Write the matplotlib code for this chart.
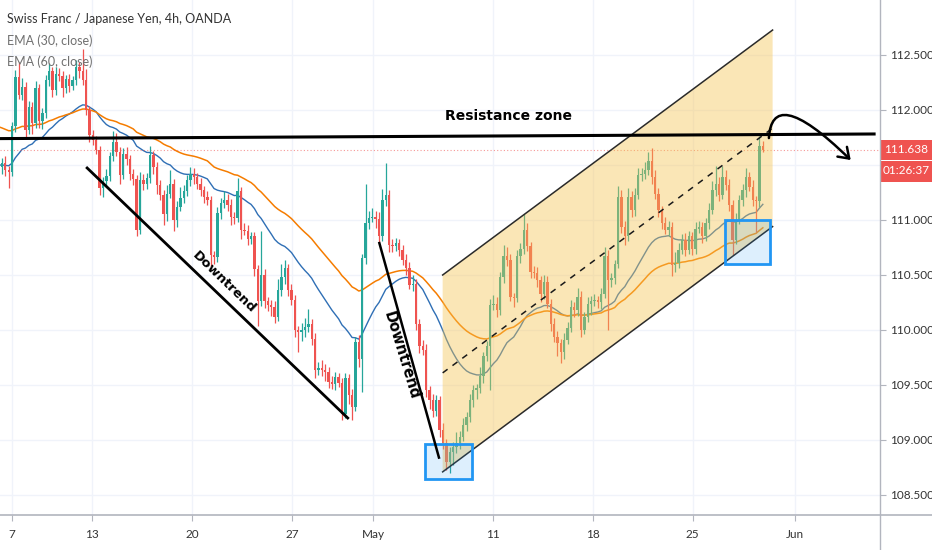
import numpy as np
import matplotlib
matplotlib.use('Agg')
import matplotlib.pyplot as plt
import matplotlib.transforms as mtransforms
from matplotlib.path import Path
from matplotlib.patches import FancyArrowPatch, Polygon, Rectangle
from matplotlib.lines import Line2D

# 4h closes, CHF/JPY, bar index -3 .. 224
closes = [
    111.48, 111.52, 111.45, 111.44, 111.85, 112.30, 112.14, 112.21, 111.82, 112.03,
    111.88, 112.20, 111.90, 111.97, 112.27, 112.35, 112.18, 112.33, 112.31, 112.20,
    112.28, 112.22, 112.27, 112.39, 112.35, 112.27, 112.00, 111.77, 111.73, 111.64,
    111.29, 111.35, 111.40, 111.58, 111.71, 111.62, 111.41, 111.60, 111.55, 111.42,
    111.37, 110.91, 111.36, 111.33, 111.38, 111.59, 111.48, 111.32, 111.23, 111.05,
    111.24, 111.33, 111.00, 111.12, 111.20, 111.26, 111.36, 111.42, 111.39, 111.33,
    111.27, 111.21, 111.18, 110.68, 110.66, 111.06, 111.15, 111.18, 111.14, 111.03,
    111.02, 111.26, 110.91, 110.90, 110.83, 110.85, 110.55, 110.26, 110.50, 110.26,
    110.23, 110.21, 110.12, 110.36, 110.48, 110.56, 110.36, 110.27, 110.00, 109.98,
    110.00, 110.03, 110.05, 109.92, 109.64, 109.65, 109.64, 109.62, 109.53, 109.51,
    109.57, 109.52, 109.24, 109.56, 109.41, 109.30, 109.89, 109.74, 110.65, 110.97,
    111.02, 111.03, 111.01, 110.85, 111.18, 111.23, 110.77, 110.76, 110.79, 110.73,
    110.64, 110.56, 110.41, 110.42, 110.05, 109.85, 109.82, 109.45, 109.36, 109.26,
    109.36, 109.09, 108.97, 108.80, 108.89, 108.94, 108.97, 109.03, 109.14, 109.21,
    109.36, 109.45, 109.47, 109.58, 109.76, 109.85, 110.23, 110.24, 110.18, 110.48,
    110.67, 110.64, 110.30, 110.29, 110.67, 110.74, 110.91, 110.76, 110.53, 110.52,
    110.45, 110.33, 110.44, 110.24, 110.05, 109.94, 109.88, 109.80, 109.91, 110.02,
    110.21, 110.18, 110.30, 110.00, 110.12, 110.24, 110.26, 110.27, 110.25, 110.33,
    110.67, 110.45, 110.47, 110.60, 111.21, 110.94, 110.85, 111.21, 111.09, 111.23,
    111.41, 111.42, 111.45, 111.54, 111.39, 111.24, 111.09, 110.97, 110.91, 110.94,
    110.59, 110.61, 110.73, 110.82, 110.73, 110.85, 110.74, 110.92, 110.94, 110.85,
    110.97, 111.09, 111.27, 111.33, 111.23, 111.39, 111.32, 111.14, 110.82, 111.00,
    111.18, 111.27, 111.39, 111.30, 111.18, 111.17, 111.67, 111.638,
]
first_open = 111.50

# wick lengths above / below the body, in 0.01 yen
wick_up = [
    5, 4, 6, 4, 4, 6, 14, 8, 4, 5,
    4, 6, 4, 5, 5, 8, 4, 6, 5, 4,
    4, 5, 4, 6, 5, 20, 10, 4, 5, 3,
    3, 4, 6, 4, 10, 8, 4, 5, 6, 4,
    4, 4, 8, 6, 5, 8, 4, 5, 4, 4,
    8, 12, 4, 5, 10, 6, 5, 6, 5, 4,
    5, 4, 5, 4, 4, 6, 5, 8, 6, 5,
    4, 12, 4, 6, 5, 4, 4, 4, 40, 5,
    4, 4, 5, 10, 12, 8, 4, 6, 5, 4,
    6, 8, 14, 5, 5, 6, 8, 5, 4, 5,
    5, 4, 4, 5, 4, 5, 5, 6, 4, 36,
    6, 8, 5, 6, 10, 29, 4, 6, 5, 4,
    4, 5, 6, 8, 4, 5, 6, 5, 4, 6,
    5, 4, 6, 4, 5, 4, 10, 5, 6, 4,
    6, 5, 4, 8, 4, 5, 5, 8, 6, 5,
    10, 8, 5, 4, 6, 5, 14, 6, 4, 5,
    5, 4, 6, 5, 4, 6, 5, 4, 6, 5,
    6, 4, 8, 5, 4, 6, 5, 6, 4, 5,
    8, 6, 5, 4, 10, 6, 5, 8, 5, 6,
    6, 5, 8, 8, 11, 6, 5, 4, 6, 5,
    4, 10, 6, 5, 6, 5, 4, 6, 5, 4,
    5, 6, 8, 16, 6, 10, 6, 5, 4, 6,
    5, 6, 8, 5, 6, 4, 9, 5,
]
wick_dn = [
    8, 6, 5, 15, 4, 5, 4, 5, 8, 4,
    10, 4, 6, 7, 4, 5, 6, 4, 5, 8,
    5, 6, 4, 4, 6, 4, 5, 6, 5, 4,
    6, 8, 4, 5, 4, 4, 8, 4, 5, 6,
    5, 6, 4, 6, 5, 4, 6, 8, 5, 10,
    6, 4, 10, 6, 4, 5, 4, 5, 6, 5,
    5, 6, 4, 10, 6, 4, 5, 4, 6, 8,
    6, 4, 8, 4, 6, 5, 6, 22, 4, 6,
    6, 8, 6, 4, 5, 6, 5, 4, 6, 18,
    8, 6, 5, 6, 8, 5, 6, 8, 6, 5,
    6, 4, 6, 4, 8, 12, 4, 8, 30, 5,
    5, 4, 8, 6, 4, 5, 6, 5, 4, 6,
    5, 6, 4, 6, 5, 6, 5, 6, 8, 5,
    4, 6, 5, 7, 10, 12, 6, 5, 4, 6,
    5, 6, 8, 4, 6, 4, 40, 5, 6, 4,
    5, 6, 4, 8, 4, 6, 5, 4, 6, 5,
    6, 8, 5, 4, 6, 5, 12, 10, 6, 4,
    4, 6, 5, 6, 4, 5, 10, 4, 5, 6,
    4, 45, 6, 5, 4, 6, 8, 4, 6, 5,
    4, 6, 5, 4, 6, 5, 6, 5, 4, 6,
    10, 6, 5, 4, 6, 4, 6, 5, 4, 6,
    4, 5, 4, 5, 6, 4, 5, 6, 14, 4,
    4, 5, 6, 4, 5, 28, 5, 2,
]
first_bar = -3

# axis ticks
date_ticks = [1, 24.7, 54.4, 84.1, 108.2, 143.9, 173.5, 203.2, 233.5]
date_labels = ['7', '13', '20', '27', 'May', '11', '18', '25', 'Jun']
price_ticks = [108.5, 109.0, 109.5, 110.0, 110.5, 111.0, 111.5, 112.0, 112.5]

# EMA start values (history before the left edge)
ema30_seed = 111.50
ema60_seed = 111.86

# drawings, as (bar index, price)
resistance = [(-2.7, 111.74), (257.5, 111.782)]
downtrend1 = [(23.3, 111.473), (100.7, 109.20)]
downtrend2 = [(110.1, 110.79), (127.8, 108.84)]
channel_upper = [(128.9, 110.50), (226.9, 112.727)]
channel_lower = [(128.9, 108.71), (226.9, 110.94)]
channel_mid = [(128.9, 109.61), (226.9, 111.835)]
box1 = (123.7, 108.645, 137.7, 108.96)
box2 = (212.9, 110.597, 226.2, 111.00)
arrow_path = [(225.8, 111.745), (226.4, 112.05), (233.2, 112.05), (250.1, 111.545)]
countdown = '01:26:37'

UP = '#26a69a'
DOWN = '#ef5350'


def ema(values, span, seed):
    k = 2.0 / (span + 1)
    out = []
    e = seed
    for v in values:
        e = e + k * (v - e)
        out.append(e)
    return np.array(out)


c = np.array(closes)
o = np.concatenate([[first_open], c[:-1]])
hi = np.maximum(o, c) + np.array(wick_up) / 100.0
lo = np.minimum(o, c) - np.array(wick_dn) / 100.0
x = np.arange(first_bar, first_bar + len(c))
col = np.where(c >= o, UP, DOWN)

fig = plt.figure(figsize=(9.32, 5.5), dpi=100)
ax = fig.add_axes([0, 35 / 550, 880 / 932, 515 / 550])
ax.set_xlim(-2.58, 258.8)
ax.set_ylim(108.318, 113.0)

# grid
for t in price_ticks:
    ax.axhline(t, color='#f0f3fa', lw=1, zorder=0)
for t in date_ticks:
    ax.axvline(t, color='#f0f3fa', lw=1, zorder=0)

# EMAs
ax.plot(x, ema(c, 30, ema30_seed), color='#2f6fb5', lw=1, zorder=2)
ax.plot(x, ema(c, 60, ema60_seed), color='#f57c00', lw=1.1, zorder=2)

# candles
ax.vlines(x, lo, hi, colors=col, lw=0.9, zorder=3)
body = np.maximum(np.abs(c - o), 0.006)
ax.bar(x, body, bottom=np.minimum(o, c), width=0.7, color=col, zorder=3)

# last price line
ax.axhline(c[-1], color=DOWN, lw=0.8, ls=(0, (1, 2)), alpha=0.6, zorder=2)

# parallel channel
poly = [channel_upper[0], channel_upper[1], channel_lower[1], channel_lower[0]]
ax.add_patch(Polygon(poly, closed=True, facecolor='#f5c451', alpha=0.42,
                     edgecolor='none', zorder=4))
for seg in (channel_upper, channel_lower):
    ax.plot(*zip(*seg), color='#2a2a2a', lw=1.1, zorder=5)
ax.plot(*zip(*channel_mid), color='#1a1a1a', lw=1.1, ls=(0, (4, 4)), zorder=5)

# boxes
for b in (box1, box2):
    ax.add_patch(Rectangle((b[0], b[1]), b[2] - b[0], b[3] - b[1],
                           facecolor='#2196f3', alpha=0.15, edgecolor='none', zorder=5))
    ax.add_patch(Rectangle((b[0], b[1]), b[2] - b[0], b[3] - b[1],
                           facecolor='none', edgecolor='#2196f3', lw=2, zorder=6))

# trend lines
ax.plot(*zip(*resistance), color='black', lw=2.2, zorder=6, solid_capstyle='butt')
ax.plot(*zip(*downtrend1), color='black', lw=2.0, zorder=6)
ax.plot(*zip(*downtrend2), color='black', lw=1.8, zorder=6)

ax.text(148.5, 111.945, 'Resistance zone', ha='center', va='center',
        fontsize=10, fontweight='bold', color='black', zorder=7)
ax.text(63.9, 110.436, 'Downtrend', ha='center', va='center', rotation=-44,
        rotation_mode='anchor', fontsize=9.5, fontweight='bold', color='black', zorder=7)
ax.text(116.6, 109.77, 'Downtrend', ha='center', va='center', rotation=-73,
        rotation_mode='anchor', fontsize=10.5, fontweight='bold', color='black', zorder=7)

# curved arrow
codes = [Path.MOVETO, Path.CURVE4, Path.CURVE4, Path.CURVE4]
arr = FancyArrowPatch(path=Path(arrow_path, codes), arrowstyle='->,head_length=0.5,head_width=0.35',
                      mutation_scale=14, color='black', lw=1.8, zorder=7)
ax.add_patch(arr)

# axes styling
for s in ax.spines.values():
    s.set_visible(False)
ax.yaxis.tick_right()
ax.set_yticks(price_ticks)
ax.set_yticklabels(['' if abs(t - 111.5) < 1e-9 else '%.3f' % t for t in price_ticks])
ax.set_xticks(date_ticks)
ax.set_xticklabels(date_labels)
ax.tick_params(axis='y', length=4, color='#b2b5be', labelsize=8.5, labelcolor='#333333', pad=3)
ax.tick_params(axis='x', length=4, color='#b2b5be', labelsize=8.5, labelcolor='#333333', pad=6)
for lab in ax.get_xticklabels() + ax.get_yticklabels():
    lab.set_fontfamily('Lato')

fig.add_artist(Line2D([0, 1], [35 / 550, 35 / 550], color='#b2b5be', lw=1.2,
                      transform=fig.transFigure))
fig.add_artist(Line2D([880 / 932, 880 / 932], [0, 1], color='#b2b5be', lw=1,
                      transform=fig.transFigure))

# price label boxes on the scale
tr = mtransforms.blended_transform_factory(fig.transFigure, ax.transData)
px = (515 / 550 * 5.5 * 100) / (113.0 - 108.318)
hb = 20 / px
fig.add_artist(Rectangle((881 / 932, c[-1] - hb / 2), 51 / 932, hb, facecolor=DOWN,
                         edgecolor='none', transform=tr))
fig.add_artist(Rectangle((881 / 932, c[-1] - hb / 2 - 22 / px), 51 / 932, 21 / px,
                         facecolor=DOWN, edgecolor='none', transform=tr))
fig.text(906 / 932, c[-1], '%.3f' % c[-1], transform=tr, ha='center', va='center',
         color='white', fontsize=8.5, family='Lato')
fig.text(906 / 932, c[-1] - hb / 2 - 11 / px, countdown, transform=tr, ha='center',
         va='center', color='white', fontsize=8.5, family='Lato')

# legend lines
fig.text(7 / 932, 1 - 19 / 550, 'Swiss Franc / Japanese Yen, 4h, OANDA', ha='left',
         va='center', fontsize=9, color='#333333', family='Lato')
fig.text(7 / 932, 1 - 41 / 550, 'EMA (30, close)', ha='left', va='center',
         fontsize=9, color='#707070', family='Lato')
fig.text(7 / 932, 1 - 62 / 550, 'EMA (60, close)', ha='left', va='center',
         fontsize=9, color='#707070', family='Lato')

fig.savefig('out.png', dpi=100)
